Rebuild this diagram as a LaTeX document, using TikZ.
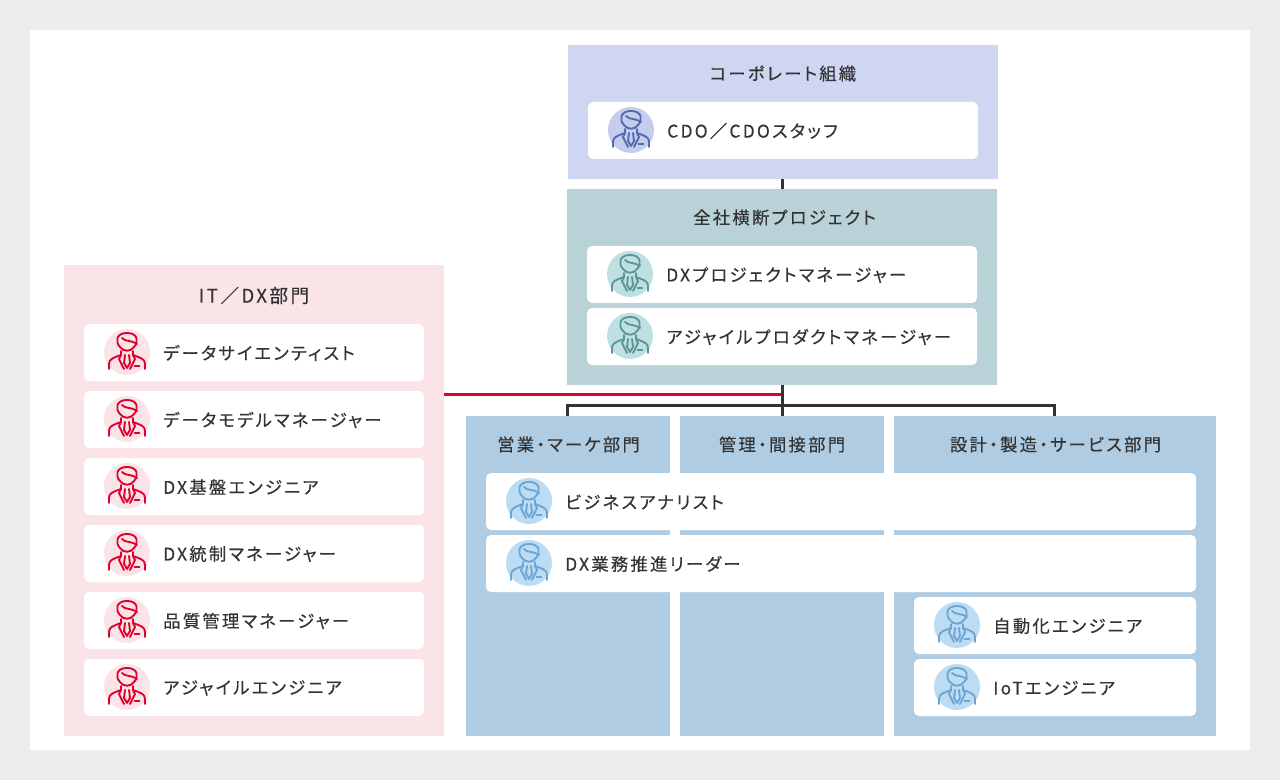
\documentclass[tikz,border=0pt]{standalone}
\usepackage{fontspec}
\setmainfont[LetterSpace=13, FakeBold=0.35, RawFeature=+palt]{Noto Sans CJK JP}
\usetikzlibrary{positioning}
\definecolor{colorPage}{HTML}{ECECEC}
\definecolor{colorText}{HTML}{333333}
\definecolor{colorLine}{HTML}{333333}
\definecolor{colorRed}{HTML}{E0002D}
\definecolor{colorCorp}{HTML}{CFD6F1}
\definecolor{colorCorpIcon}{HTML}{C5CDEE}
\definecolor{colorCorpLine}{HTML}{5468AC}
\definecolor{colorProj}{HTML}{B8D2D7}
\definecolor{colorProjIcon}{HTML}{BFE0E2}
\definecolor{colorProjLine}{HTML}{5A9793}
\definecolor{colorIt}{HTML}{FAE4E8}
\definecolor{colorDept}{HTML}{B0CCE2}
\definecolor{colorDeptIcon}{HTML}{BCDCF3}
\definecolor{colorDeptLine}{HTML}{6AA5D3}
\tikzset{
	panel/.style={anchor=north west, inner sep=0pt, outer sep=0pt},
	paneltitle/.style={anchor=center, inner sep=0pt, text=colorText, font=\fontsize{13pt}{15pt}\selectfont},
	rolecard/.style={anchor=north west, fill=white, rounded corners=3.75pt, inner sep=0pt, outer sep=0pt, minimum height=42.75pt},
	roleicon/.style={circle, inner sep=0pt, outer sep=0pt, minimum size=34.5pt},
	rolename/.style={anchor=west, inner sep=0pt, text=colorText, font=\fontsize{13pt}{15pt}\selectfont},
	tree/.style={draw=colorLine, line width=2.25pt},
}
% man in a suit, centred on a named icon node
\newcommand\drawPerson[2]{
	\begin{scope}[shift={(#1.center)}, draw=#2, line width=1.4pt, line join=round, line cap=round]
		\draw (-7,-5) .. controls (-12,-10) and (-11,-19) .. (0,-19) .. controls (11,-19) and (12,-10) .. (7,-5) .. controls (4,0) and (-4,0) .. (-7,-5);
		\draw (-5,-14) .. controls (-2,-10) and (5,-12) .. (10,-8);
		\draw (-18,17) -- (-18,12) .. controls (-18,7) and (-14,6) .. (-6,3) -- (-6,-1);
		\draw (18,17) -- (18,12) .. controls (18,7) and (14,6) .. (6,3) -- (6,-1);
		\draw (-6,3) -- (-8,7) -- (-3,17);
		\draw (6,3) -- (8,7) -- (3,17);
		\draw (-2,3) -- (-3,11) -- (0,16) -- (3,11) -- (2,3);
		\draw (7.5,14) -- (12.5,14);
	\end{scope}
}
% #1 name, #2 left, #3 top, #4 width, #5 text, #6 icon fill, #7 icon line
\newcommand\roleCard[7]{
	\node[rolecard, minimum width=#4*0.75pt] (#1) at (#2,#3) {};
	\node[roleicon, fill=#6, right=15pt of #1.west, yshift=0.4pt] (#1Icon) {};
	\drawPerson{#1Icon}{#7}
	\node[rolename, right=9.75pt of #1Icon, yshift=-0.75pt] (#1Name) {#5};
}
\begin{document}
\begin{tikzpicture}[x=0.75pt, y=-0.75pt]
	\useasboundingbox (0,0) rectangle (1280,780);
	\fill[colorPage] (0,0) rectangle (1280,780);
	\fill[white] (30,30) rectangle (1250,750);

	\node[panel, fill=colorCorp, minimum width=322.5pt, minimum height=100.5pt] (corp) at (568,45) {};
	\node[panel, fill=colorProj, minimum width=322.5pt, minimum height=147pt] (proj) at (567,189) {};
	\node[panel, fill=colorIt, minimum width=285pt, minimum height=353.25pt] (itdx) at (64,265) {};
	\node[panel, fill=colorDept, minimum width=153pt, minimum height=240pt] (sales) at (466,416) {};
	\node[panel, fill=colorDept, minimum width=153pt, minimum height=240pt] (mgmt) at (680,416) {};
	\node[panel, fill=colorDept, minimum width=241.5pt, minimum height=240pt] (design) at (894,416) {};

	\coordinate (redJoin) at (782,394.5);
	\coordinate (treeJoin) at (782,405.5);
	\draw[tree] (proj.north -| treeJoin) -- (corp.south -| treeJoin);
	\draw[colorRed, line width=2.25pt] (itdx.east |- redJoin) -- (redJoin);
	\draw[tree] (proj.south -| treeJoin) -- (mgmt.north -| treeJoin);
	\draw[tree] ([xshift=-0.75pt]sales.north) |- (treeJoin) -| ([xshift=-0.75pt]design.north);

	\node[paneltitle] (corpTitle) at (783,73.5) {コーポレート組織};
	\node[paneltitle] (projTitle) at (784.5,217.5) {全社横断プロジェクト};
	\node[paneltitle, font=\fontsize{14pt}{15pt}\selectfont] (itdxTitle) at (254,295.5) {IT／DX部門};
	\node[paneltitle] (salesTitle) at (568.5,444.5) {営業・マーケ部門};
	\node[paneltitle] (mgmtTitle) at (782,444.5) {管理・間接部門};
	\node[paneltitle] (designTitle) at (1055.5,444.5) {設計・製造・サービス部門};

	\roleCard{cdo}{588}{102}{390}{CDO／CDOスタッフ}{colorCorpIcon}{colorCorpLine}

	\roleCard{pm}{587}{246}{390}{DXプロジェクトマネージャー}{colorProjIcon}{colorProjLine}
	\roleCard{apm}{587}{308}{390}{アジャイルプロダクトマネージャー}{colorProjIcon}{colorProjLine}

	\foreach \i/\y/\t in {1/324/データサイエンティスト, 2/391/データモデルマネージャー, 3/458/DX基盤エンジニア, 4/525/DX統制マネージャー, 5/592/品質管理マネージャー, 6/659/アジャイルエンジニア}{
		\roleCard{it\i}{84}{\y}{340}{\t}{colorIt}{colorRed}
	}

	\roleCard{analyst}{486}{473}{710}{ビジネスアナリスト}{colorDeptIcon}{colorDeptLine}
	\roleCard{leader}{486}{535}{710}{DX業務推進リーダー}{colorDeptIcon}{colorDeptLine}
	\roleCard{auto}{914}{597}{282}{自動化エンジニア}{colorDeptIcon}{colorDeptLine}
	\roleCard{iot}{914}{659}{282}{IoTエンジニア}{colorDeptIcon}{colorDeptLine}
\end{tikzpicture}
\end{document}
